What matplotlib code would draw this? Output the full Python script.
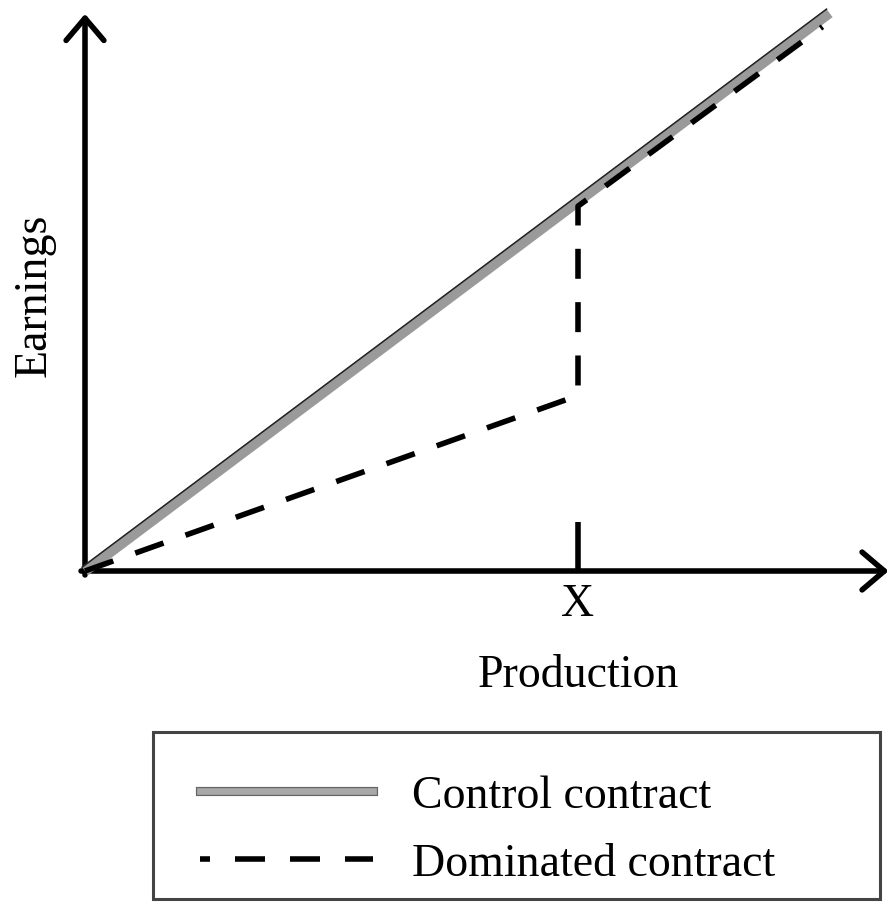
import matplotlib
matplotlib.use("Agg")
import matplotlib.pyplot as plt
import matplotlib.patheffects as pe
from matplotlib.lines import Line2D
from matplotlib.patches import Rectangle
from matplotlib.transforms import offset_copy

## Données (unités arbitraires : production / gains)
x_seuil = 5.0  # production X
prod_control = [0.0, 7.55]
gain_control = [0.0, 5.66]
prod_domine = [0.0, x_seuil, x_seuil, 7.48]
gain_domine = [0.0, 1.78, 3.70, 5.52]
x_axe_max = 8.15
y_axe_max = 5.65
labels_legende = ["Control contract", "Dominated contract"]

plt.rcParams['font.family'] = ['Liberation Serif', 'DejaVu Serif']
fs = 33

fig = plt.figure(figsize=(8.92, 9.04), dpi=100)
# axe placé pour que l'origine soit à (85, 572) px
ax = fig.add_axes([85 / 892, (904 - 572) / 904, 807 / 892, 572 / 904])
ax.set_xlim(0, 807 / 98.6)
ax.set_ylim(0, 572 / 98.6)
ax.axis('off')

# axes avec flèches
fleche = dict(arrowstyle='->, head_length=1.0, head_width=0.85', lw=4, color='black',
              mutation_scale=16, shrinkA=0, shrinkB=0)
ax.annotate('', xy=(x_axe_max, 0), xytext=(-0.04, 0), arrowprops=fleche, annotation_clip=False)
ax.annotate('', xy=(0, y_axe_max), xytext=(0, -0.04), arrowprops=fleche, annotation_clip=False)

# contrat de contrôle (bande grise, bord supérieur noir)
ax.plot(prod_control, gain_control, color='#9a9a9a', lw=7.6, solid_capstyle='butt',
        clip_on=False, zorder=3)
bord = offset_copy(ax.transData, fig=fig, x=-2.9, y=3.8, units='dots')
ax.plot(prod_control, gain_control, color='#222222', lw=1.1, transform=bord,
        clip_on=False, zorder=3)

# contrat dominé
ax.plot(prod_domine, gain_domine, color='black', lw=4, linestyle=(0, (5.4, 4.2)),
        dash_capstyle='butt', solid_joinstyle='round', clip_on=False, zorder=4)

# repère X
ax.plot([x_seuil, x_seuil], [0, 0.5], color='black', lw=4, solid_capstyle='butt', zorder=4)
ax.text(x_seuil, -0.33, 'X', ha='center', va='center', fontsize=fs)
ax.text(x_seuil, -1.05, 'Production', ha='center', va='center', fontsize=fs)
ax.text(-0.51, 2.81, 'Earnings', ha='center', va='center', rotation=90, fontsize=fs)

# légende
h1 = Line2D([], [], color='#a8a8a8', lw=4.8,
            path_effects=[pe.Stroke(linewidth=6.6, foreground='#666666'), pe.Normal()])
h2 = Line2D([], [], color='black', lw=4, linestyle=(3.6, (5.4, 4.5)), dash_capstyle='butt')
fig.legend([h1, h2], labels_legende, loc='center left', frameon=False,
           bbox_to_anchor=(200 / 892, 1 - 831 / 904), borderpad=0, borderaxespad=0,
           handlelength=3.78, handletextpad=0.85, labelspacing=0.56, fontsize=fs)
fig.patches.append(Rectangle((153 / 892, 1 - 900 / 904), 727 / 892, 167 / 904,
                             transform=fig.transFigure, fill=False,
                             edgecolor='#444444', lw=2.2))

fig.savefig('out.png', dpi=100)
